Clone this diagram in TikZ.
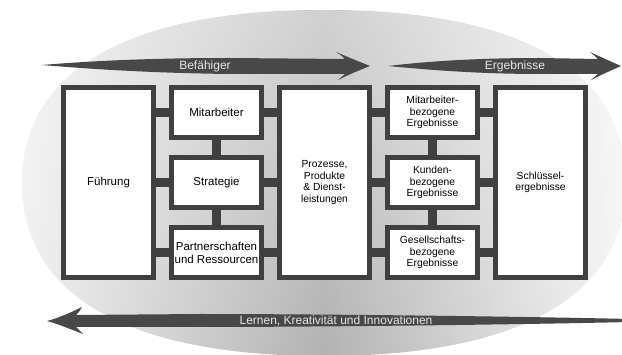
\documentclass[tikz,border=0pt]{standalone}
\usepackage{fontspec}
\usetikzlibrary{fadings}
\setmainfont{Liberation Sans}
\definecolor{frame}{RGB}{64,64,64}
\definecolor{arrowgray}{RGB}{72,72,72}
\definecolor{labelgray}{RGB}{230,230,230}
\begin{document}
\begin{tikzpicture}[x=1pt,y=-1pt,
  box/.style={draw=frame, line width=5pt, fill=white, inner sep=0pt, align=center,
    font=\fontsize{11.5}{13}\selectfont},
  bigbox/.style={box, minimum width=90pt, minimum height=190pt,
    font=\fontsize{10.3}{11.5}\selectfont},
  lead/.style={bigbox, font=\fontsize{11.5}{13}\selectfont},
  midbox/.style={box, minimum width=90pt, minimum height=50pt},
  resbox/.style={midbox, font=\fontsize{10.3}{11.5}\selectfont},
  bar/.style={draw=frame, line width=9pt},
  flow/.style={fill=arrowgray},
  flowlabel/.style={text=labelgray, inner sep=0pt, anchor=base,
    font=\fontsize{12}{14}\selectfont}]

\useasboundingbox (0,0) rectangle (622,355);

% shaded oval behind the model
\def\cx{324}\def\cy{183}\def\ra{302}\def\rb{173}\def\k{0.65}
\def\oval{(\cx+\ra,\cy) .. controls (\cx+\ra,\cy-\k*\rb) and (\cx+\k*\ra,\cy-\rb) .. (\cx,\cy-\rb)
  .. controls (\cx-\k*\ra,\cy-\rb) and (\cx-\ra,\cy-\k*\rb) .. (\cx-\ra,\cy)
  .. controls (\cx-\ra,\cy+\k*\rb) and (\cx-\k*\ra,\cy+\rb) .. (\cx,\cy+\rb)
  .. controls (\cx+\k*\ra,\cy+\rb) and (\cx+\ra,\cy+\k*\rb) .. (\cx+\ra,\cy) -- cycle}
\shade[left color=gray!12, right color=gray!7, middle color=gray!60] \oval;
\fill[white, fill opacity=0.4, path fading=south] \oval;

% top flow arrows
\fill[flow] (42,65) .. controls (90,61) and (150,58) .. (230,58) -- (345,59)
  .. controls (342,56) .. (336,52) .. controls (350,58) and (360,62) .. (370,66)
  .. controls (360,70) and (350,74) .. (338,80) .. controls (342,77) .. (345,74)
  -- (230,74) .. controls (150,73) and (90,69) .. (42,65) -- cycle;
\fill[flow] (388,66) .. controls (430,61) and (480,58) .. (540,58) -- (598,59)
  .. controls (595,56) .. (590,52) .. controls (603,58) and (612,62) .. (621,66)
  .. controls (612,70) and (603,74) .. (591,80) .. controls (595,77) .. (598,74)
  -- (540,74) .. controls (480,74) and (430,70) .. (388,66) -- cycle;

% bottom flow arrow
\fill[flow] (630,319) .. controls (500,316) and (300,314) .. (200,314) -- (76,315)
  .. controls (79,312) .. (82,307) .. controls (70,313) and (58,318) .. (47,321)
  .. controls (58,324) and (70,329) .. (83,334) .. controls (80,331) .. (76,327)
  -- (200,327) .. controls (300,327) and (500,325) .. (630,322) -- cycle;

\node[flowlabel] (befaehiger) at (205,70) {Befähiger};
\node[flowlabel] (ergebnisse) at (515,70) {Ergebnisse};
\node[flowlabel] (lernen) at (336,325) {Lernen, Kreativität und Innovationen};

% boxes of the model
\node[lead] (fue) at (108.5,182.5) {Führung};
\node[midbox] (mit) at (216.5,112.5) {Mitarbeiter};
\node[midbox] (str) at (216.5,182.5) {Strategie};
\node[midbox] (par) at (216.5,252.5) {Partnerschaften\\und Ressourcen};
\node[bigbox] (pro) at (324.5,182.5) {Prozesse,\\Produkte\\\& Dienst-\\leistungen};
\node[resbox] (mer) at (432.5,112.5) {Mitarbeiter-\\bezogene\\Ergebnisse};
\node[resbox] (ker) at (432.5,182.5) {Kunden-\\bezogene\\Ergebnisse};
\node[resbox] (ger) at (432.5,252.5) {Gesellschafts-\\bezogene\\Ergebnisse};
\node[bigbox] (sch) at (540.5,182.5) {Schlüssel-\\ergebnisse};

% connecting bars
\foreach \m/\r in {mit/mer, str/ker, par/ger} {
  \draw[bar] (\m.west) -- (\m.west -| fue.east);
  \draw[bar] (\m.east) -- (\m.east -| pro.west);
  \draw[bar] (\r.west) -- (\r.west -| pro.east);
  \draw[bar] (\r.east) -- (\r.east -| sch.west);
}
\draw[bar] (mit.south) -- (str.north);
\draw[bar] (str.south) -- (par.north);
\draw[bar] (mer.south) -- (ker.north);
\draw[bar] (ker.south) -- (ger.north);

\end{tikzpicture}
\end{document}
